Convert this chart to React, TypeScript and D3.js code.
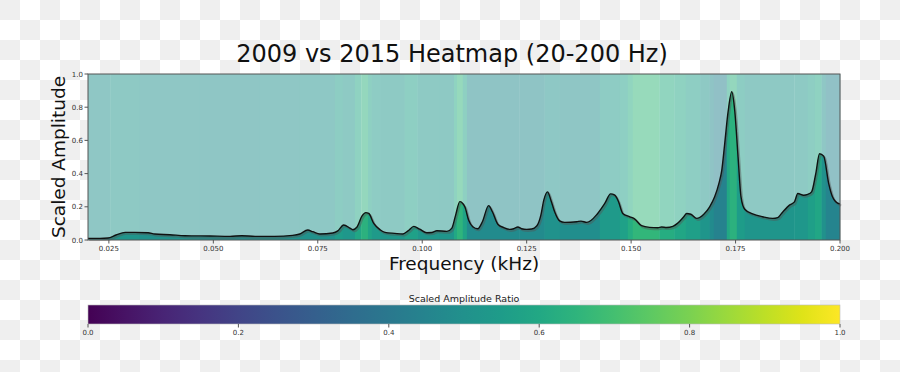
import React from "react";
import * as d3 from "d3";

// amplitude curve (kHz, scaled amplitude)
const curveFreq = [
  0.02, 0.0229, 0.0248, 0.0267, 0.0289, 0.0312, 0.0344, 0.036, 0.0396, 0.0432,
  0.0492, 0.054, 0.0568, 0.06, 0.0647, 0.069, 0.0707, 0.0726, 0.0738, 0.0755,
  0.0786, 0.0798, 0.0812, 0.0827, 0.0834, 0.0844, 0.0856, 0.0865, 0.0872, 0.0884,
  0.0899, 0.0911, 0.0934, 0.0954, 0.0966, 0.098, 0.0994, 0.1011, 0.1023, 0.1035,
  0.1059, 0.1071, 0.108, 0.109, 0.1102, 0.1111, 0.1121, 0.1133, 0.1144, 0.1159,
  0.1168, 0.1181, 0.1195, 0.121, 0.1219, 0.1229, 0.1238, 0.125, 0.1262, 0.1274,
  0.1284, 0.1291, 0.13, 0.1308, 0.1317, 0.1329, 0.1341, 0.137, 0.138, 0.1394,
  0.142, 0.1437, 0.1451, 0.1461, 0.147, 0.148, 0.1497, 0.1509, 0.1525, 0.1544,
  0.1564, 0.1573, 0.1585, 0.16, 0.1611, 0.1626, 0.1633, 0.1643, 0.1657, 0.1674,
  0.1688, 0.17, 0.171, 0.1717, 0.1724, 0.1732, 0.1741, 0.1748, 0.1756, 0.1763,
  0.1772, 0.1791, 0.1815, 0.1839, 0.1851, 0.186, 0.1879, 0.1891, 0.1899, 0.1913,
  0.1923, 0.1932, 0.1942, 0.1951, 0.1961, 0.1973, 0.1982, 0.199, 0.2,
];
const curveAmp = [
  0.01, 0.01, 0.012, 0.03, 0.046, 0.046, 0.044, 0.036, 0.032, 0.026,
  0.024, 0.022, 0.026, 0.022, 0.022, 0.028, 0.036, 0.06, 0.05, 0.036,
  0.042, 0.055, 0.09, 0.072, 0.062, 0.078, 0.145, 0.165, 0.16, 0.1,
  0.062, 0.046, 0.04, 0.036, 0.055, 0.082, 0.065, 0.044, 0.045, 0.056,
  0.052, 0.072, 0.15, 0.231, 0.2, 0.12, 0.08, 0.068, 0.11, 0.207,
  0.17, 0.095, 0.075, 0.064, 0.068, 0.078, 0.068, 0.064, 0.066, 0.084,
  0.15, 0.24, 0.29, 0.24, 0.17, 0.115, 0.106, 0.11, 0.114, 0.106,
  0.16, 0.22, 0.278, 0.27, 0.23, 0.16, 0.14, 0.126, 0.086, 0.076,
  0.074, 0.078, 0.075, 0.082, 0.1, 0.14, 0.16, 0.155, 0.13, 0.155,
  0.2, 0.26, 0.34, 0.42, 0.58, 0.77, 0.893, 0.78, 0.5, 0.26,
  0.185, 0.157, 0.14, 0.13, 0.135, 0.16, 0.21, 0.23, 0.28, 0.27,
  0.275, 0.29, 0.4, 0.52, 0.505, 0.34, 0.26, 0.23, 0.217,
];

// heatmap bands: start frequency and amplitude ratio of each band
const bandFreq = [
  0.02, 0.0253, 0.0324, 0.0468, 0.0611, 0.0707, 0.0791, 0.081, 0.0839, 0.0854,
  0.087, 0.0879, 0.0899, 0.0958, 0.0989, 0.1042, 0.1076, 0.1083, 0.1097, 0.1107,
  0.1233, 0.1293, 0.1329, 0.1425, 0.1473, 0.1492, 0.1504, 0.1568, 0.1604, 0.1631,
  0.1665, 0.1688, 0.1698, 0.1729, 0.1736, 0.1753, 0.1772, 0.1891, 0.1923, 0.194,
  0.1956, 0.1966,
];
const bandRatio = [
  0.5, 0.52, 0.5, 0.49, 0.5, 0.51, 0.55, 0.53, 0.59, 0.64,
  0.58, 0.54, 0.53, 0.57, 0.53, 0.52, 0.6, 0.65, 0.58, 0.48,
  0.48, 0.51, 0.49, 0.54, 0.57, 0.62, 0.66, 0.62, 0.59, 0.56,
  0.52, 0.48, 0.44, 0.6, 0.64, 0.55, 0.52, 0.53, 0.56, 0.59,
  0.5, 0.45,
];

const xTicks = [0.025, 0.05, 0.075, 0.1, 0.125, 0.15, 0.175, 0.2];
const yTicks = [0, 0.2, 0.4, 0.6, 0.8, 1.0];
const cbTicks = [0, 0.2, 0.4, 0.6, 0.8, 1.0];

const W = 900;
const H = 372;
const FONT = "DejaVu Sans, sans-serif";

export default function App() {
  const x = d3.scaleLinear().domain([0.02, 0.2]).range([88, 840]);
  const y = d3.scaleLinear().domain([0, 1]).range([240, 74]);
  const cb = d3.scaleLinear().domain([0, 1]).range([88, 840]);

  const pts: [number, number][] = curveFreq.map((f, i) => [f, curveAmp[i]]);
  const line = d3
    .line<[number, number]>()
    .x((d) => x(d[0]))
    .y((d) => y(d[1]))
    .curve(d3.curveMonotoneX);
  const area = d3
    .area<[number, number]>()
    .x((d) => x(d[0]))
    .y0(y(0))
    .y1((d) => y(d[1]))
    .curve(d3.curveMonotoneX);

  const bands = bandFreq.map((f, i) => ({
    x0: x(f),
    x1: x(i + 1 < bandFreq.length ? bandFreq[i + 1] : 0.2),
    c: d3.interpolateViridis(bandRatio[i]),
  }));

  const gradStops = d3.range(0, 1.0001, 0.05);

  return (
    <svg
      width={W}
      height={H}
      style={{ position: "absolute", left: 0, top: 0 }}
      fontFamily={FONT}
    >
      <defs>
        <pattern id="checker" width={40} height={40} patternUnits="userSpaceOnUse">
          <rect width={40} height={40} fill="#ffffff" />
          <rect width={20} height={20} fill="#efefef" />
          <rect x={20} y={20} width={20} height={20} fill="#efefef" />
        </pattern>
        <clipPath id="under">
          <path d={area(pts) || ""} />
        </clipPath>
        <linearGradient id="viridis" x1="0" x2="1" y1="0" y2="0">
          {gradStops.map((t) => (
            <stop key={t} offset={t} stopColor={d3.interpolateViridis(t)} />
          ))}
        </linearGradient>
      </defs>
      <rect width={W} height={H} fill="url(#checker)" />

      {/* title */}
      <text x={452} y={62} textAnchor="middle" fontSize={24} fill="#111">
        2009 vs 2015 Heatmap (20-200 Hz)
      </text>

      {/* heatmap */}
      <rect x={88} y={74} width={752} height={166} fill="#fff" />
      <g opacity={0.5}>
        {bands.map((b, i) => (
          <rect key={i} x={b.x0} y={74} width={b.x1 - b.x0 + 0.3} height={166} fill={b.c} />
        ))}
      </g>
      <g clipPath="url(#under)">
        {bands.map((b, i) => (
          <rect key={i} x={b.x0} y={74} width={b.x1 - b.x0 + 0.3} height={166} fill={b.c} />
        ))}
      </g>
      <path
        d={line(pts) || ""}
        fill="none"
        stroke="#555"
        strokeOpacity={0.45}
        strokeWidth={2}
        transform="translate(1.2,1.5)"
      />
      <path d={line(pts) || ""} fill="none" stroke="#111" strokeWidth={1.4} />
      <rect x={88} y={74} width={752} height={166} fill="none" stroke="#555" strokeWidth={1} />

      {/* x axis */}
      {xTicks.map((t) => (
        <g key={t}>
          <line x1={x(t)} x2={x(t)} y1={240} y2={243.5} stroke="#555" />
          <text x={x(t)} y={251} textAnchor="middle" fontSize={7} fill="#333">
            {t.toFixed(3)}
          </text>
        </g>
      ))}
      {/* y axis */}
      {yTicks.map((t) => (
        <g key={t}>
          <line x1={88} x2={84.5} y1={y(t)} y2={y(t)} stroke="#555" />
          <text x={83} y={y(t) + 2.5} textAnchor="end" fontSize={7} fill="#333">
            {t.toFixed(1)}
          </text>
        </g>
      ))}
      <text x={464} y={270} textAnchor="middle" fontSize={18.5} fill="#111">
        Frequency (kHz)
      </text>
      <text
        transform="translate(65,157) rotate(-90)"
        textAnchor="middle"
        fontSize={18.5}
        fill="#111"
      >
        Scaled Amplitude
      </text>

      {/* colorbar */}
      <text x={464} y={301.5} textAnchor="middle" fontSize={9.5} fill="#222">
        Scaled Amplitude Ratio
      </text>
      <rect x={88} y={305} width={752} height={19} fill="url(#viridis)" stroke="#bbb" strokeWidth={0.6} />
      {cbTicks.map((t) => (
        <g key={t}>
          <line x1={cb(t)} x2={cb(t)} y1={324} y2={327.5} stroke="#555" />
          <text x={cb(t)} y={335} textAnchor="middle" fontSize={7} fill="#333">
            {t.toFixed(1)}
          </text>
        </g>
      ))}
    </svg>
  );
}
